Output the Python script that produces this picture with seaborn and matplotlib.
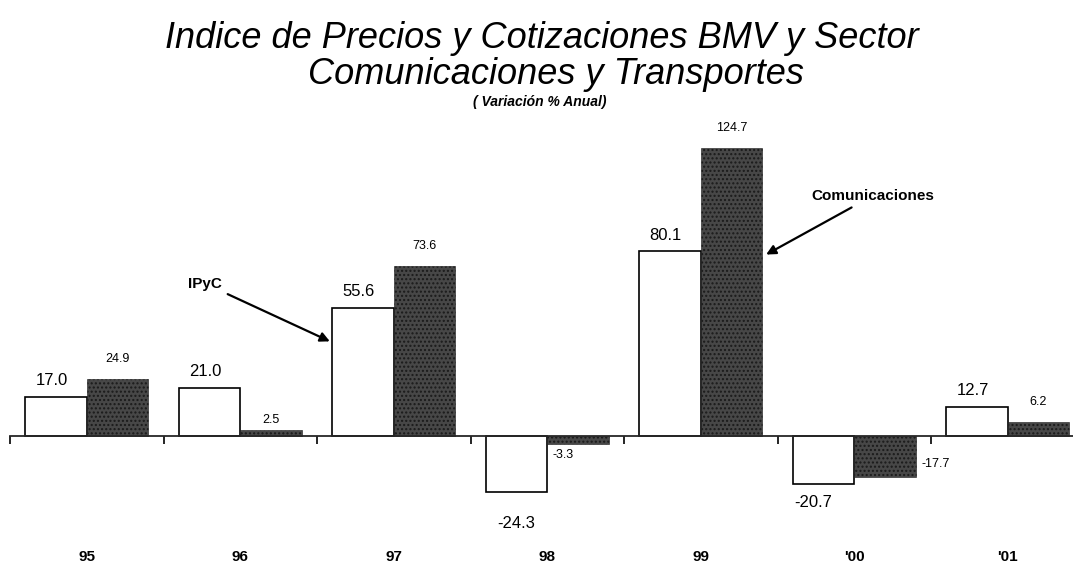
import pandas as pd
import matplotlib.pyplot as plt
import seaborn as sns

years = ["95", "96", "97", "98", "99", "'00", "'01"]
ipyc = [17.0, 21.0, 55.6, -24.3, 80.1, -20.7, 12.7]
comunicaciones = [24.9, 2.5, 73.6, -3.3, 124.7, -17.7, 6.2]
series = ["IPyC", "Comunicaciones"]

df = pd.DataFrame({
    "year": years * 2,
    "value": ipyc + comunicaciones,
    "serie": [series[0]] * len(years) + [series[1]] * len(years),
})

sns.set_style("white")
plt.rcParams["font.family"] = ["Liberation Sans", "DejaVu Sans"]
plt.rcParams["text.color"] = "black"
plt.rcParams["xtick.color"] = "black"

fig = plt.figure(figsize=(10.73, 5.71), dpi=100)
ax = fig.add_axes([10 / 1073, 61 / 571, 1063 / 1073, 380 / 571])

sns.barplot(data=df, x="year", y="value", hue="serie", order=years,
            hue_order=series, palette=["white", "#474747"], edgecolor="black",
            linewidth=1.2, width=0.8, legend=False, ax=ax)

# stipple texture on the dark bars
for bar in ax.containers[1]:
    bar.set_hatch("....")
    bar.set_edgecolor("#1a1a1a")
    bar.set_linewidth(0.4)

# value labels
for i, (a, b) in enumerate(zip(ipyc, comunicaciones)):
    xa, xb = i - 0.2, i + 0.2
    if a >= 0:
        ax.annotate(f"{a:.1f}", (xa - 0.03, a), xytext=(0, 6), textcoords="offset points",
                    ha="center", va="bottom", fontsize=12)
    elif i == 3:
        ax.annotate(f"{a:.1f}", (xa, a), xytext=(0, -17), textcoords="offset points",
                    ha="center", va="top", fontsize=12)
    else:
        ax.annotate(f"{a:.1f}", (xa - 0.07, a), xytext=(0, -8), textcoords="offset points",
                    ha="center", va="top", fontsize=12)
    if b >= 0:
        off = 10 if b > 5 else 3
        ax.annotate(f"{b:.1f}", (xb, b), xytext=(0, off), textcoords="offset points",
                    ha="center", va="bottom", fontsize=9)
    elif i == 3:
        ax.annotate(f"{b:.1f}", (i, b), xytext=(4, -4), textcoords="offset points",
                    ha="left", va="top", fontsize=9)
    else:
        ax.annotate(f"{b:.1f}", (i + 0.4, b), xytext=(4, 9), textcoords="offset points",
                    ha="left", va="center", fontsize=9)

# arrows
arrow = dict(arrowstyle="-|>", color="black", lw=1.6, mutation_scale=14)
ax.annotate("IPyC", xy=(1.6, 40.5), xytext=(0.77, 66), ha="center", va="center",
            fontsize=11, fontweight="bold", arrowprops=arrow)
ax.annotate("Comunicaciones", xy=(4.41, 78), xytext=(5.12, 104), ha="center", va="center",
            fontsize=11, fontweight="bold", arrowprops=arrow)

# axis through zero with boundary ticks
sns.despine(ax=ax, left=True)
ax.spines["bottom"].set_position(("data", 0))
ax.spines["bottom"].set_linewidth(1.3)
ax.set_yticks([])
ax.set_xticks(range(len(years)))
ax.set_xticklabels(years, fontsize=11, fontweight="bold")
ax.set_xticks([i - 0.5 for i in range(len(years) + 1)], minor=True)
ax.tick_params(axis="x", which="major", length=0, pad=82)
ax.tick_params(axis="x", which="minor", length=6, width=1.2, direction="out", bottom=True)
ax.set_xlabel("")
ax.set_ylabel("")
ax.set_xlim(-0.5, 6.425)
ax.set_ylim(-32, 132.5)

fig.text(0.505, 1 - 38 / 571, "Indice de Precios y Cotizaciones BMV y Sector",
         ha="center", va="center", fontsize=26, style="italic")
fig.text(0.518, 1 - 75 / 571, "Comunicaciones y Transportes",
         ha="center", va="center", fontsize=26, style="italic")
fig.text(0.503, 1 - 102 / 571, "( Variación % Anual)",
         ha="center", va="center", fontsize=10, style="italic", fontweight="bold")

fig.savefig("out.png", dpi=100)
